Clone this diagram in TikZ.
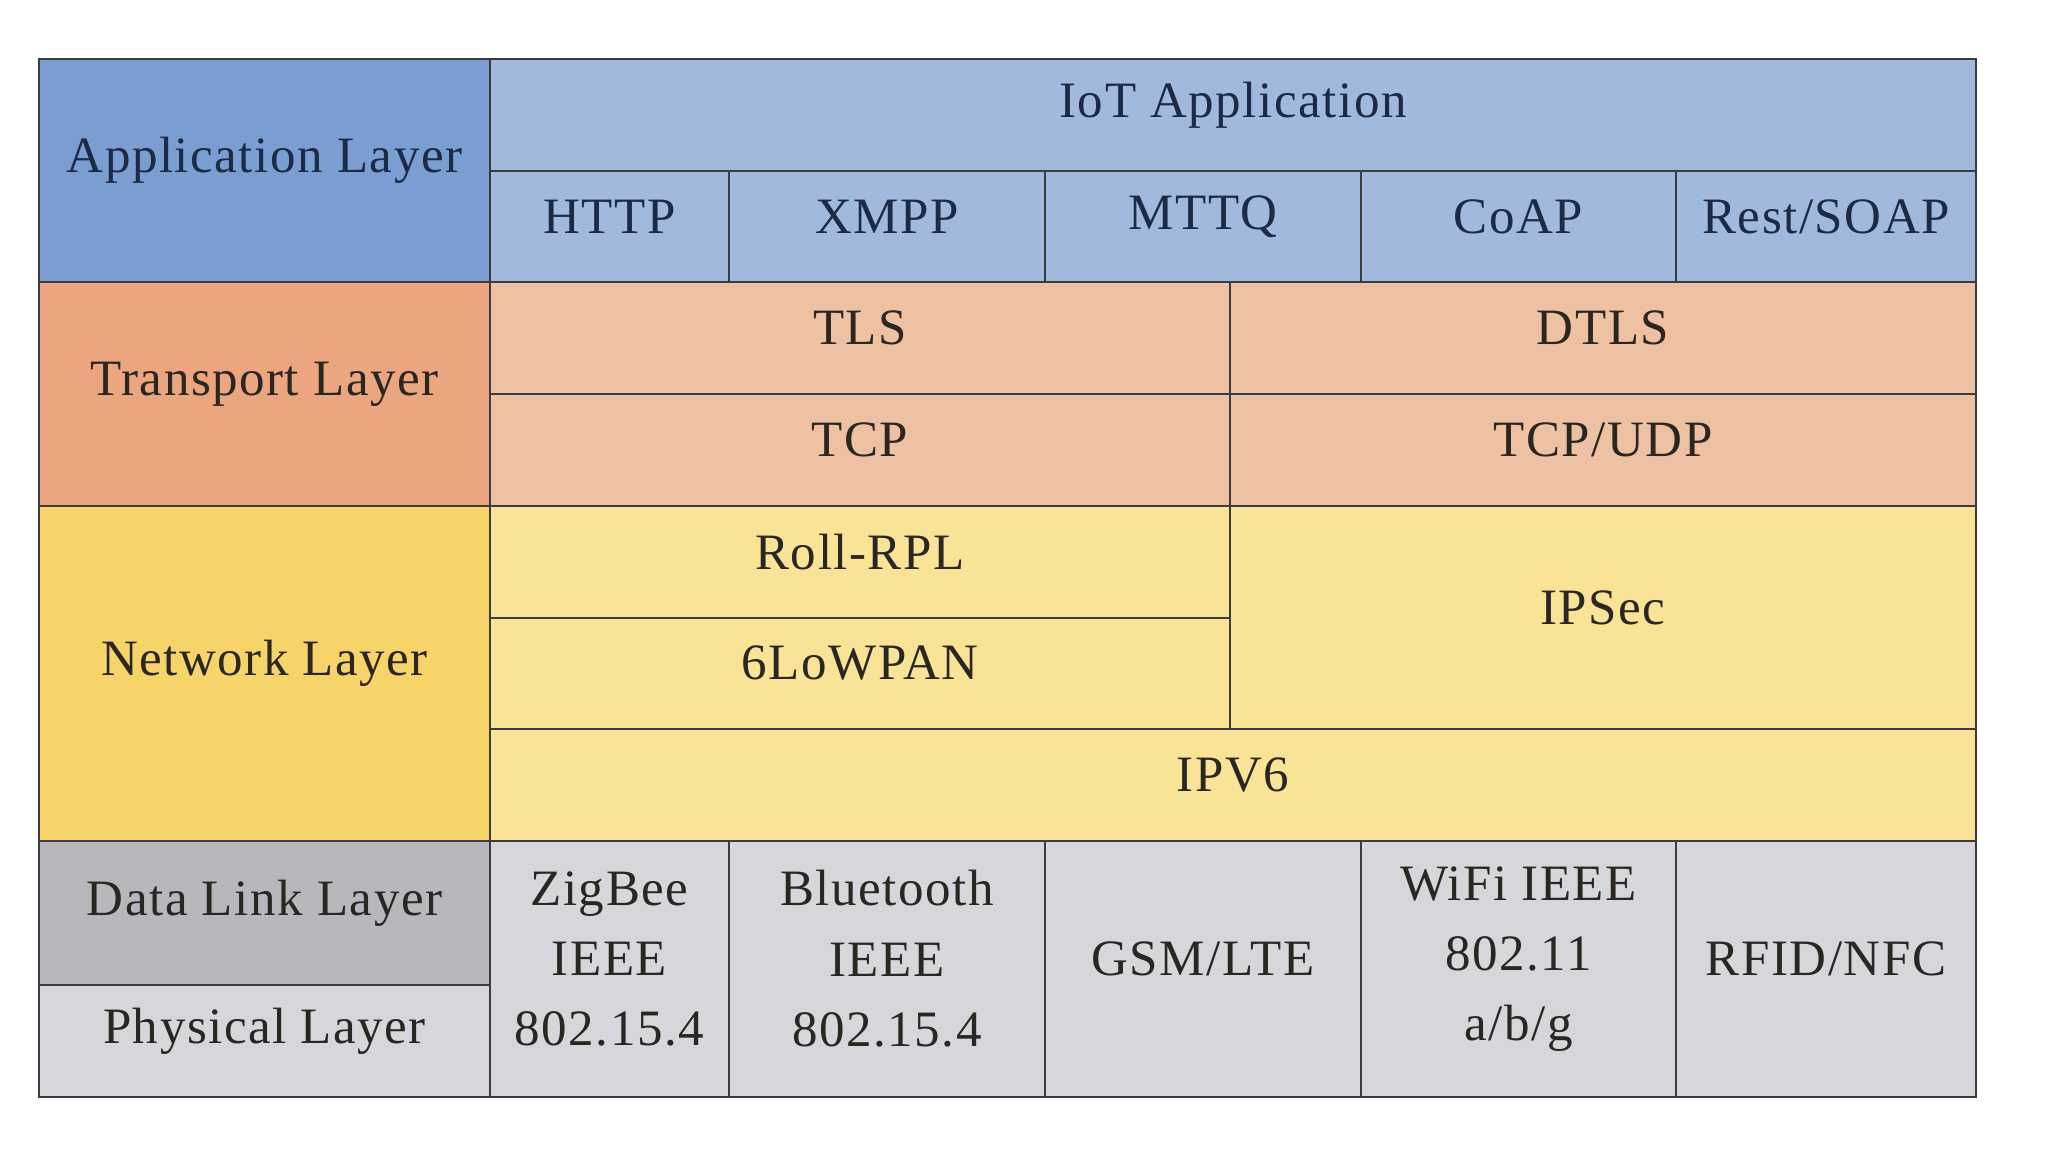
\documentclass[tikz,border=0pt]{standalone}
\usepackage{fontspec}
\setmainfont[LetterSpace=3]{Liberation Serif}
\usepackage{xcolor}
\usepackage{tikz}

\definecolor{appdark}{HTML}{7B9ED2}
\definecolor{applight}{HTML}{A0B9DD}
\definecolor{trdark}{HTML}{EBA67F}
\definecolor{trlight}{HTML}{EFC1A3}
\definecolor{netdark}{HTML}{F7D46A}
\definecolor{netlight}{HTML}{F8E396}
\definecolor{dldark}{HTML}{B7B8BC}
\definecolor{phlight}{HTML}{D5D7DA}
\definecolor{inkblue}{HTML}{1D2A45}
\definecolor{inkdark}{HTML}{2A2622}
\definecolor{gridline}{HTML}{3C3C40}

\begin{document}
\begin{tikzpicture}[x=0.01cm,y=-0.01cm,
    cellbox/.style={draw=gridline, line width=0.8pt},
    lbl/.style={align=center, yshift=0.1cm, inner sep=0pt,
      font=\fontsize{14.5}{20}\selectfont}]
  \useasboundingbox (0,0) rectangle (2048,1152);

  % name/left/top/right/bottom/fill/ink/text
  \foreach \nm/\xa/\ya/\xb/\yb/\col/\ink/\txt in {
    app/39/59/490/282/appdark/inkblue/{Application Layer},
    iot/490/59/1976/171/applight/inkblue/{IoT Application},
    http/490/171/729/282/applight/inkblue/{HTTP},
    xmpp/729/171/1045/282/applight/inkblue/{XMPP},
    mttq/1045/171/1361/282/applight/inkblue/{MTTQ},
    coap/1361/171/1676/282/applight/inkblue/{CoAP},
    rest/1676/171/1976/282/applight/inkblue/{Rest/SOAP},
    trans/39/282/490/506/trdark/inkdark/{Transport Layer},
    tls/490/282/1230/394/trlight/inkdark/{TLS},
    dtls/1230/282/1976/394/trlight/inkdark/{DTLS},
    tcp/490/394/1230/506/trlight/inkdark/{TCP},
    tcpudp/1230/394/1976/506/trlight/inkdark/{TCP/UDP},
    net/39/506/490/841/netdark/inkdark/{Network Layer},
    roll/490/506/1230/618/netlight/inkdark/{Roll-RPL},
    lowpan/490/618/1230/729/netlight/inkdark/{6LoWPAN},
    ipsec/1230/506/1976/729/netlight/inkdark/{IPSec},
    ipv6/490/729/1976/841/netlight/inkdark/{IPV6},
    dlink/39/841/490/985/dldark/inkdark/{Data Link Layer},
    phys/39/985/490/1097/phlight/inkdark/{Physical Layer},
    zigbee/490/841/729/1097/phlight/inkdark/{ZigBee\\IEEE\\802.15.4},
    bluet/729/841/1045/1097/phlight/inkdark/{Bluetooth\\IEEE\\802.15.4},
    gsm/1045/841/1361/1097/phlight/inkdark/{GSM/LTE},
    wifi/1361/841/1676/1097/phlight/inkdark/{WiFi IEEE\\802.11\\a/b/g},
    rfid/1676/841/1976/1097/phlight/inkdark/{RFID/NFC}}
  {
    \draw[cellbox, fill=\col] (\xa,\ya) rectangle (\xb,\yb);
    \node[lbl, text=\ink] (\nm) at ({(\xa+\xb)/2},{(\ya+\yb)/2}) {\txt};
  }
\end{tikzpicture}
\end{document}
